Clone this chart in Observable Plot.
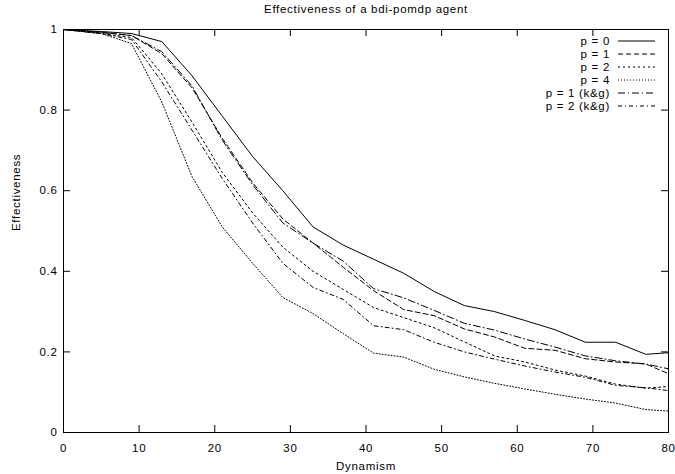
<!DOCTYPE html>
<html><head><meta charset="utf-8">
<script src="https://cdn.jsdelivr.net/npm/d3@7"></script>
<script src="https://cdn.jsdelivr.net/npm/@observablehq/plot@0.6"></script>
<style>
body{margin:0;background:#fff}
svg{font-family:"Liberation Sans",Arial,Helvetica,sans-serif}
</style>
</head><body><div id="chart"></div>
<script>
const titleText = "Effectiveness of a bdi-pomdp agent";
const xLabel = "Dynamism";
const yLabel = "Effectiveness";
const xTicks = [0,10,20,30,40,50,60,70,80];
const yTicks = [0,0.2,0.4,0.6,0.8,1];
const dynamism = [0,5,9,13,17,21,25,29,33,37,41,45,49,53,57,61,65,69,73,77,80];
const p0   = [1,.995,.99,.97,.885,.785,.685,.60,.51,.465,.43,.395,.35,.315,.30,.278,.255,.224,.224,.194,.198];
const p1   = [1,.993,.985,.94,.855,.73,.62,.53,.47,.41,.352,.305,.29,.257,.237,.209,.204,.183,.175,.17,.146];
const p2   = [1,.99,.98,.89,.77,.645,.545,.46,.40,.355,.31,.285,.26,.225,.19,.175,.155,.14,.12,.11,.114];
const p4   = [1,.99,.965,.82,.635,.51,.42,.335,.295,.245,.197,.187,.157,.138,.122,.108,.095,.083,.073,.057,.053];
const p1kg = [1,.993,.985,.945,.86,.725,.615,.52,.47,.425,.357,.334,.303,.271,.254,.232,.212,.19,.178,.17,.158];
const p2kg = [1,.99,.975,.87,.75,.63,.52,.42,.36,.33,.265,.255,.224,.2,.182,.165,.15,.137,.117,.111,.104];
const seriesNames = ["p = 0","p = 1","p = 2","p = 4","p = 1 (k&g)","p = 2 (k&g)"];
const seriesValues = [p0,p1,p2,p4,p1kg,p2kg];

const dashes = [null,"5,3","2,3","1,2","7,3,1,3","4,3,1,3"];
const W=675,H=474,mL=63,mR=7,mT=29,mB=42;
const ph=H-mT-mB, pw=W-mL-mR, tk=7, fs=11.5;

const lineMarks = seriesValues.map((vals,i)=>Plot.line(
  dynamism.map((x,j)=>({x, y: vals[j]})),
  {x:"x", y:"y", stroke:"black", strokeWidth:1, strokeDasharray:dashes[i]}));

const chart = Plot.plot({
  width:W, height:H, marginLeft:mL, marginRight:mR, marginTop:mT, marginBottom:mB,
  style:{fontSize:fs+"px", fontFamily:'"Liberation Sans",Arial,sans-serif', color:"black", background:"white", letterSpacing:"0.7px"},
  x:{domain:[0,80]}, y:{domain:[0,1]},
  marks:[
    ...lineMarks,
    Plot.axisX({ticks:xTicks, tickSize:0, tickPadding:11, tickFormat:d=>String(d), label:null, fontSize:fs}),
    Plot.axisY({ticks:yTicks, tickSize:0, tickPadding:6, tickFormat:d=>String(d), label:null, fontSize:fs}),
    Plot.tickX(xTicks,{x:d=>d, insetTop:ph-tk, stroke:"black"}),
    Plot.tickX(xTicks,{x:d=>d, insetBottom:ph-tk, stroke:"black"}),
    Plot.tickY(yTicks,{y:d=>d, insetRight:pw-tk, stroke:"black"}),
    Plot.tickY(yTicks,{y:d=>d, insetLeft:pw-tk, stroke:"black"}),
    Plot.frame({stroke:"black"}),
    Plot.text([titleText],{frameAnchor:"top", lineAnchor:"middle", dy:-20, fontSize:fs}),
    Plot.text([xLabel],{frameAnchor:"bottom", lineAnchor:"middle", dy:34, fontSize:fs}),
    Plot.text([yLabel],{frameAnchor:"left", dx:-47, rotate:-90, fontSize:fs})
  ]
});
document.getElementById("chart").appendChild(chart);

// legend (layout only)
const svg = d3.select(chart);
const lg = svg.append("g").attr("font-size",fs);
seriesNames.forEach((name,i)=>{
  const yy = 41 + 13*i;
  lg.append("text").attr("x",610).attr("y",yy).attr("dy","0.35em").attr("text-anchor","end").text(name);
  lg.append("line").attr("x1",618).attr("x2",655).attr("y1",yy).attr("y2",yy)
    .attr("stroke","black").attr("stroke-width",1).attr("stroke-dasharray",dashes[i]);
});
</script>
</body></html>
